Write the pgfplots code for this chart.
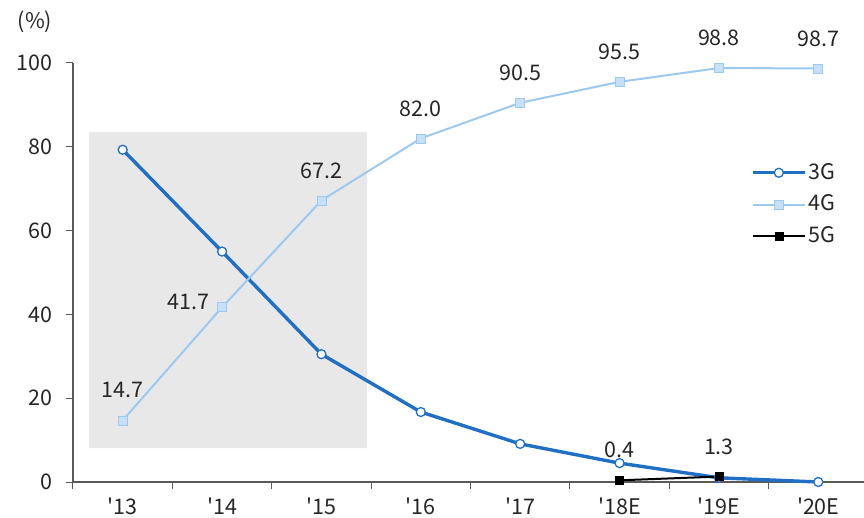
\documentclass[border=0pt]{standalone}
\usepackage{fontspec}
\setmainfont{Noto Sans CJK KR}[Ligatures=TeXOff]
\usepackage{pgfplots}
\pgfplotsset{compat=1.18}
\usepackage{pgfplotstable}
\definecolor{c3g}{HTML}{1F6FC5}
\definecolor{c4g}{HTML}{9CC9F2}
\definecolor{c4gfill}{HTML}{C6E0F8}
\definecolor{shade}{HTML}{E8E8E8}
\definecolor{axisgray}{HTML}{595959}
\definecolor{txt}{HTML}{262626}
\newcommand\ap{'}
\newcommand\fs{\fontsize{21.5}{25}\selectfont}

\pgfplotstableread{
x y
0 79.3
1 55.0
2 30.5
3 16.7
4 9.1
5 4.5
6 1.0
7 0.0
}\threeG

\pgfplotstableread{
x y lab dx dy
0 14.7 14.7 0 30
1 41.7 41.7 -34 5
2 67.2 67.2 0 30
3 82.0 82.0 0 30
4 90.5 90.5 0 30
5 95.5 95.5 0 30
6 98.8 98.8 0 30
7 98.7 98.7 0 30
}\fourG

\pgfplotstableread{
x y lab dx dy
5 0.4 0.4 0 30
6 1.3 1.3 0 30
}\fiveG

\begin{document}
\fs
\begin{tikzpicture}[x=1pt,y=1pt]
\useasboundingbox (0,0) rectangle (864,517);
\begin{axis}[
  at={(73pt,35pt)}, anchor=south west,
  scale only axis, width=795pt, height=419pt,
  xmin=-0.5, xmax=7.5, ymin=0, ymax=100,
  clip=false,
  axis lines*=left,
  axis line style={axisgray, line width=1.2pt, -},
  xtick={0,...,7},
  xticklabels={\ap13,\ap14,\ap15,\ap16,\ap17,\ap18E,\ap19E,\ap20E},
  major x tick style={draw=none},
  minor xtick={-0.5,0.5,...,7.5},
  minor tick length=7pt,
  minor x tick style={axisgray, line width=1pt},
  ytick={0,20,...,100},
  major tick length=7pt,
  tick align=outside,
  major y tick style={axisgray, line width=1pt},
  /pgf/number format/assume math mode=true,
  tick label style={font=\fs, text=txt},
  yticklabel style={xshift=-6pt},
  xticklabel style={yshift=-2pt},
  legend cell align=left,
  legend style={draw=none, fill=none, at={(0.849,0.771)}, anchor=north west,
    font=\fs, text=txt, row sep=8.5pt},
  legend image code/.code={\draw[mark repeat=2,mark phase=2,#1] plot coordinates {(0pt,0pt) (26pt,0pt) (52pt,0pt)};},
]
\addplot[draw=none, fill=shade, forget plot] coordinates {(-0.34,8.1) (2.46,8.1) (2.46,83.5) (-0.34,83.5) (-0.34,8.1)};

\addplot[c3g, line width=3.4pt, mark=*, mark size=4.5pt,
  mark options={fill=white, draw=c3g, line width=1.3pt}] table[x=x,y=y] {\threeG};
\addlegendentry{3G}

\addplot[c4g, line width=2pt, mark=square*, mark size=4.5pt,
  mark options={fill=c4gfill, draw=c4g, line width=0.8pt},
  point meta=explicit symbolic,
  visualization depends on={\thisrow{dx}\as\dx},
  visualization depends on={\thisrow{dy}\as\dy},
  nodes near coords,
  nodes near coords style={anchor=center, xshift=\dx pt, yshift=\dy pt, text=txt, font=\fs}]
  table[x=x,y=y,meta=lab] {\fourG};
\addlegendentry{4G}

\addplot[black, line width=2pt, mark=square*, mark size=4pt,
  mark options={fill=black, draw=black, line width=0.5pt},
  point meta=explicit symbolic,
  visualization depends on={\thisrow{dx}\as\dx},
  visualization depends on={\thisrow{dy}\as\dy},
  nodes near coords,
  nodes near coords style={anchor=center, xshift=\dx pt, yshift=\dy pt, text=txt, font=\fs}]
  table[x=x,y=y,meta=lab] {\fiveG};
\addlegendentry{5G}

\node[text=txt, font=\fs] at ([xshift=-38pt,yshift=41pt]rel axis cs:0,1) {(\%)};
\end{axis}
\end{tikzpicture}
\end{document}
